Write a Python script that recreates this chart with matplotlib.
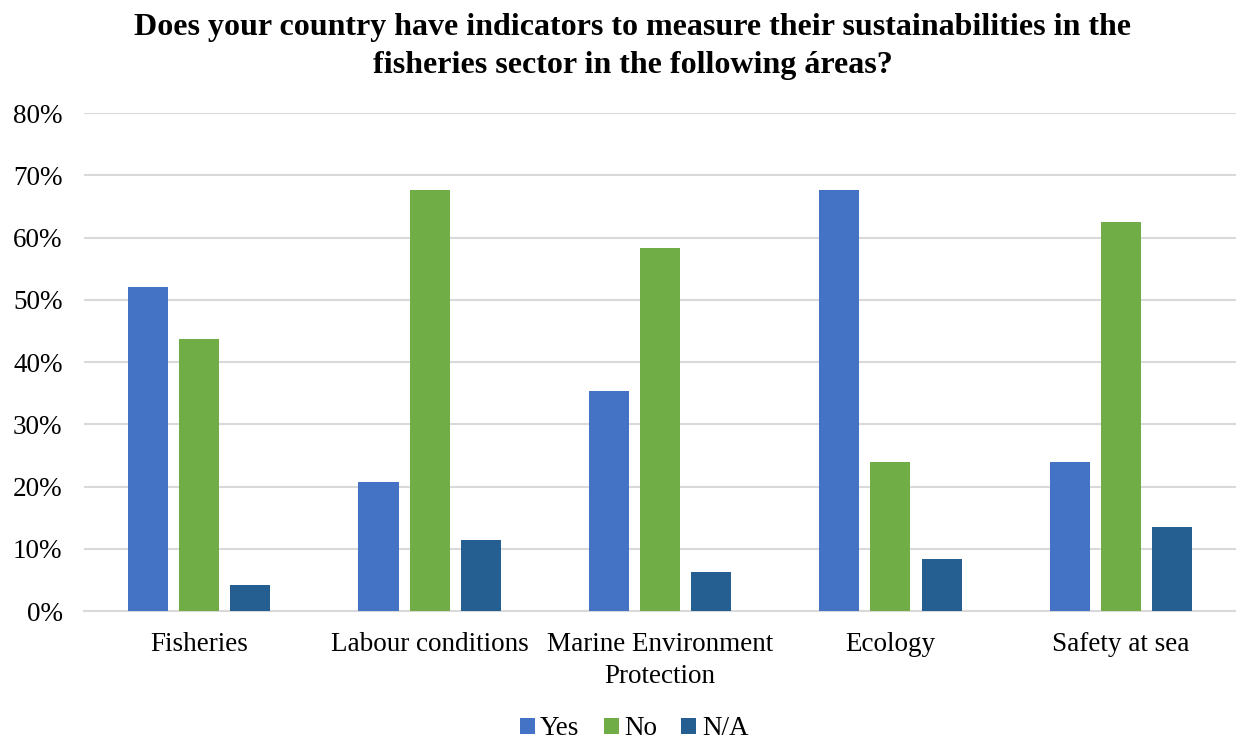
import matplotlib
matplotlib.use("Agg")
import matplotlib.pyplot as plt
import numpy as np
from matplotlib.ticker import PercentFormatter

categories = ["Fisheries", "Labour conditions", "Marine Environment\nProtection", "Ecology", "Safety at sea"]
yes_vals = [52.08, 20.83, 35.42, 67.71, 23.96]
no_vals = [43.75, 67.71, 58.33, 23.96, 62.50]
na_vals = [4.17, 11.46, 6.25, 8.33, 13.54]
series_names = ["Yes", "No", "N/A"]
colors = ["#4472C4", "#70AD47", "#255E91"]
yticks = [0, 10, 20, 30, 40, 50, 60, 70, 80]

plt.rcParams['font.family'] = ['Liberation Serif', 'DejaVu Serif']

fig = plt.figure(figsize=(12.36, 7.4), dpi=100)
ax = fig.add_axes([0.068, 0.174, 0.932, 0.673])

x = np.arange(len(categories))
width = 0.174
offset = 0.222
for i, (vals, name, c) in enumerate(zip([yes_vals, no_vals, na_vals], series_names, colors)):
    ax.bar(x + (i - 1) * offset, vals, width, color=c, label=name, zorder=3)

ax.set_xlim(-0.5, len(categories) - 0.5)
ax.set_ylim(0, 80)
ax.set_yticks(yticks)
ax.yaxis.set_major_formatter(PercentFormatter(decimals=0))
ax.set_xticks(x)
ax.set_xticklabels(categories, fontsize=19.5, linespacing=1.35)
ax.tick_params(axis='y', labelsize=19.5, length=0, pad=15.5)
ax.tick_params(axis='x', length=0, pad=15)
ax.grid(axis='y', color='#D9D9D9', linewidth=1.5, zorder=0)
for s in ['top', 'right', 'left']:
    ax.spines[s].set_visible(False)
ax.spines['bottom'].set_color('#D9D9D9')
ax.spines['bottom'].set_linewidth(1.5)

fig.suptitle("Does your country have indicators to measure their sustainabilities in the\nfisheries sector in the following áreas?",
             fontsize=23, fontweight='bold', x=0.512, y=0.982, linespacing=1.4)

fig.legend(loc='center', bbox_to_anchor=(0.513, 0.015), ncol=3, frameon=False,
           fontsize=19.5, handlelength=0.55, handleheight=0.55, handletextpad=0.2, columnspacing=0.9)

fig.savefig("out.png", dpi=100)
